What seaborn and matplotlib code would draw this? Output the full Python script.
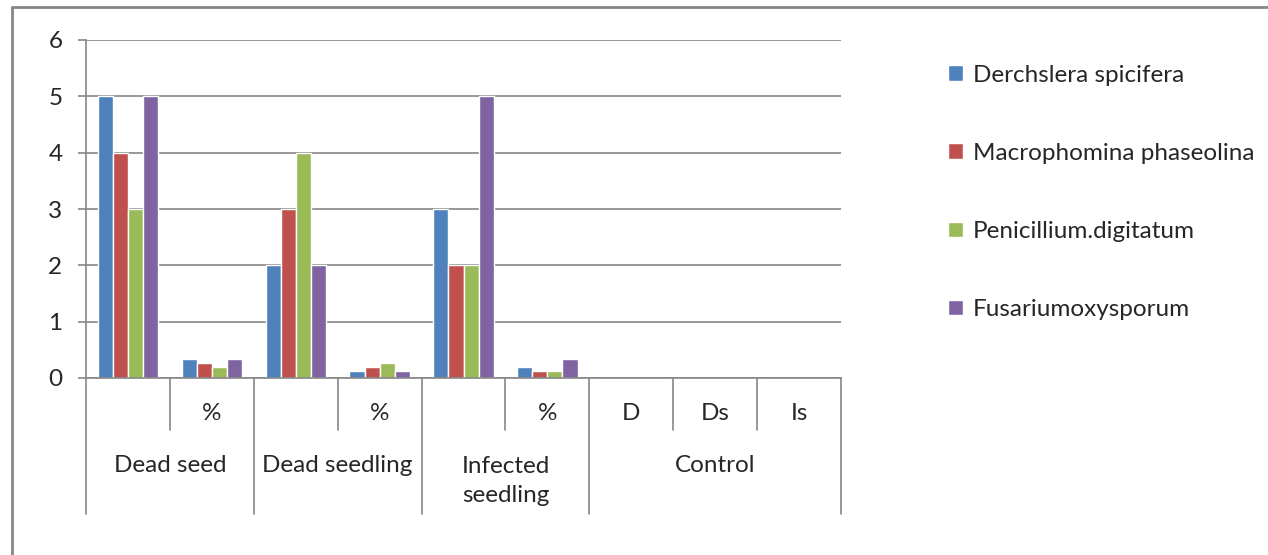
import matplotlib
matplotlib.use("Agg")
import matplotlib.pyplot as plt
import matplotlib.transforms as mtransforms
import seaborn as sns
import pandas as pd

# Category axis: sub-labels on the first row, group names on the second
sub_labels = ["", "%", "", "%", "", "%", "D", "Ds", "Is"]
groups = ["Dead seed", "Dead seedling", "Infected\nseedling", "Control"]
group_spans = [(0, 2), (2, 4), (4, 6), (6, 9)]

series = ["Derchslera spicifera", "Macrophomina phaseolina",
          "Penicillium.digitatum", "Fusariumoxysporum"]
derchslera = [5, 0.33, 2, 0.13, 3, 0.2, 0, 0, 0]
macrophomina = [4, 0.27, 3, 0.2, 2, 0.13, 0, 0, 0]
penicillium = [3, 0.2, 4, 0.27, 2, 0.13, 0, 0, 0]
fusarium = [5, 0.33, 2, 0.13, 5, 0.33, 0, 0, 0]
colors = ["#4F81BD", "#C0504D", "#9BBB59", "#8064A2"]

rows = []
for name, vals in zip(series, [derchslera, macrophomina, penicillium, fusarium]):
    for i, v in enumerate(vals):
        rows.append({"cat": i, "value": v, "series": name})
df = pd.DataFrame(rows)

sns.set_style("white")
plt.rcParams["font.family"] = ["Lato", "DejaVu Sans"]
FS = 17.5
GREY = "#868686"

W, H = 1268, 555
fig = plt.figure(figsize=(W / 100, H / 100), dpi=100)
ax = fig.add_axes([86 / W, 1 - 378 / H, (841 - 86) / W, (378 - 40) / H])

sns.barplot(data=df, x="cat", y="value", hue="series", order=list(range(9)),
            hue_order=series, palette=colors, width=0.72, saturation=1,
            gap=0, ax=ax, legend=True)

ax.set_xlim(-0.5, 8.5)
ax.set_ylim(0, 6)
ax.set_yticks(range(7))
ax.set_yticklabels([str(v) for v in range(7)], fontsize=FS)
ax.tick_params(axis="y", length=6, width=1.2, color=GREY, pad=11, left=True)
ax.set_xticks([])
ax.set_xlabel("")
ax.set_ylabel("")
ax.yaxis.grid(True, color=GREY, linewidth=1.2)
ax.set_axisbelow(True)
for side in ["top", "right"]:
    ax.spines[side].set_visible(False)
for side in ["left", "bottom"]:
    ax.spines[side].set_color(GREY)
    ax.spines[side].set_linewidth(1.2)

# Multi-level category labels and their separators
trans = mtransforms.blended_transform_factory(ax.transData, ax.transAxes)
short_y = (378 - 430) / 338
long_y = (378 - 514) / 338
row1_y = (378 - 413) / 338
row2_y = (378 - 465) / 338
row2b_y = (378 - 481) / 338

for i, lab in enumerate(sub_labels):
    if lab:
        ax.text(i, row1_y, lab, transform=trans, ha="center", va="center",
                fontsize=FS, clip_on=False)

boundaries = set()
for (a, b) in group_spans:
    boundaries.add(a)
    boundaries.add(b)
for k in range(10):
    x = k - 0.5
    y_end = long_y if k in boundaries else short_y
    ax.plot([x, x], [0, y_end], transform=trans, color=GREY, lw=1.2,
            clip_on=False)

for name, (a, b) in zip(groups, group_spans):
    xc = (a + b - 1) / 2
    yy = row2b_y if "\n" in name else row2_y
    ax.text(xc, yy, name, transform=trans, ha="center", va="center",
            fontsize=FS, linespacing=1.45, clip_on=False)

# Legend at the right of the plot area
handles, labels = ax.get_legend_handles_labels()
ax.legend(handles, labels, loc="upper left",
          bbox_to_anchor=(938 / W, 1 - 55 / H), bbox_transform=fig.transFigure,
          frameon=False, fontsize=FS, handlelength=0.62, handleheight=0.62,
          handletextpad=0.4, labelspacing=2.35, borderaxespad=0)

# Chart-area border (top and left edges)
fig.add_artist(plt.Line2D([12 / W, 1], [1 - 7 / H, 1 - 7 / H],
                          transform=fig.transFigure, color=GREY, lw=2))
fig.add_artist(plt.Line2D([12 / W, 12 / W], [0, 1 - 7 / H],
                          transform=fig.transFigure, color=GREY, lw=2))

fig.savefig("out.png", dpi=100)
